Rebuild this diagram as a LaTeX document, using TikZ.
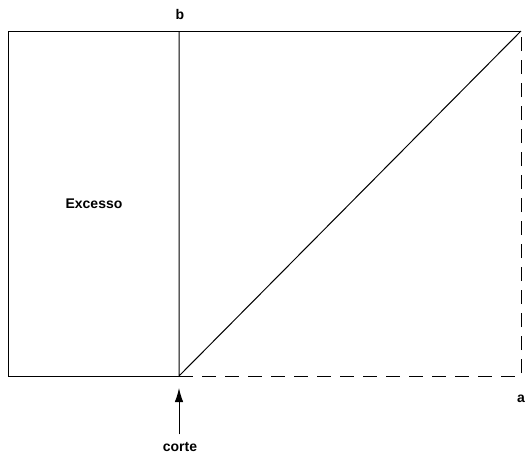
\documentclass[tikz,border=0pt]{standalone}
\usepackage{fontspec}
\setmainfont{Liberation Sans}
\usetikzlibrary{arrows.meta}
\begin{document}
\begin{tikzpicture}[x=1pt, y=-1pt, line width=1pt,
    txt/.style={font=\fontsize{14}{16}\selectfont\bfseries, inner sep=0pt, anchor=base},
    cutarrow/.style={-{Latex[length=14pt,width=8.5pt]}}]
    \useasboundingbox (0,0) rectangle (528,456);

    % --- Cantos da chapa ---
    \coordinate (tl) at (8,31);
    \coordinate (bl) at (8,376);
    \coordinate (cutbot) at (179,376);
    \coordinate (cuttop) at (179,31);
    \coordinate (tr) at (521,31);
    \coordinate (br) at (521,376);

    % Contorno e linha de corte
    \draw (cutbot) -- (bl) -- (tl) -- (tr);
    \draw (cuttop) -- (cutbot) -- (tr);

    % Parte que falta (tracejado)
    \draw[dash pattern=on 14pt off 9pt] (cutbot) -- (br) -- (tr);

    % Textos
    \node[txt] (b) at (180,19) {b};
    \node[txt] (a) at (521,402) {a};
    \node[txt] (excesso) at (94,208) {Excesso};
    \node[txt] (corte) at (180,451) {corte};

    % Seta do corte
    \coordinate (tip) at (179,388);
    \draw[cutarrow] (corte.north -| tip) ++(0,-7) -- (tip);
\end{tikzpicture}
\end{document}
